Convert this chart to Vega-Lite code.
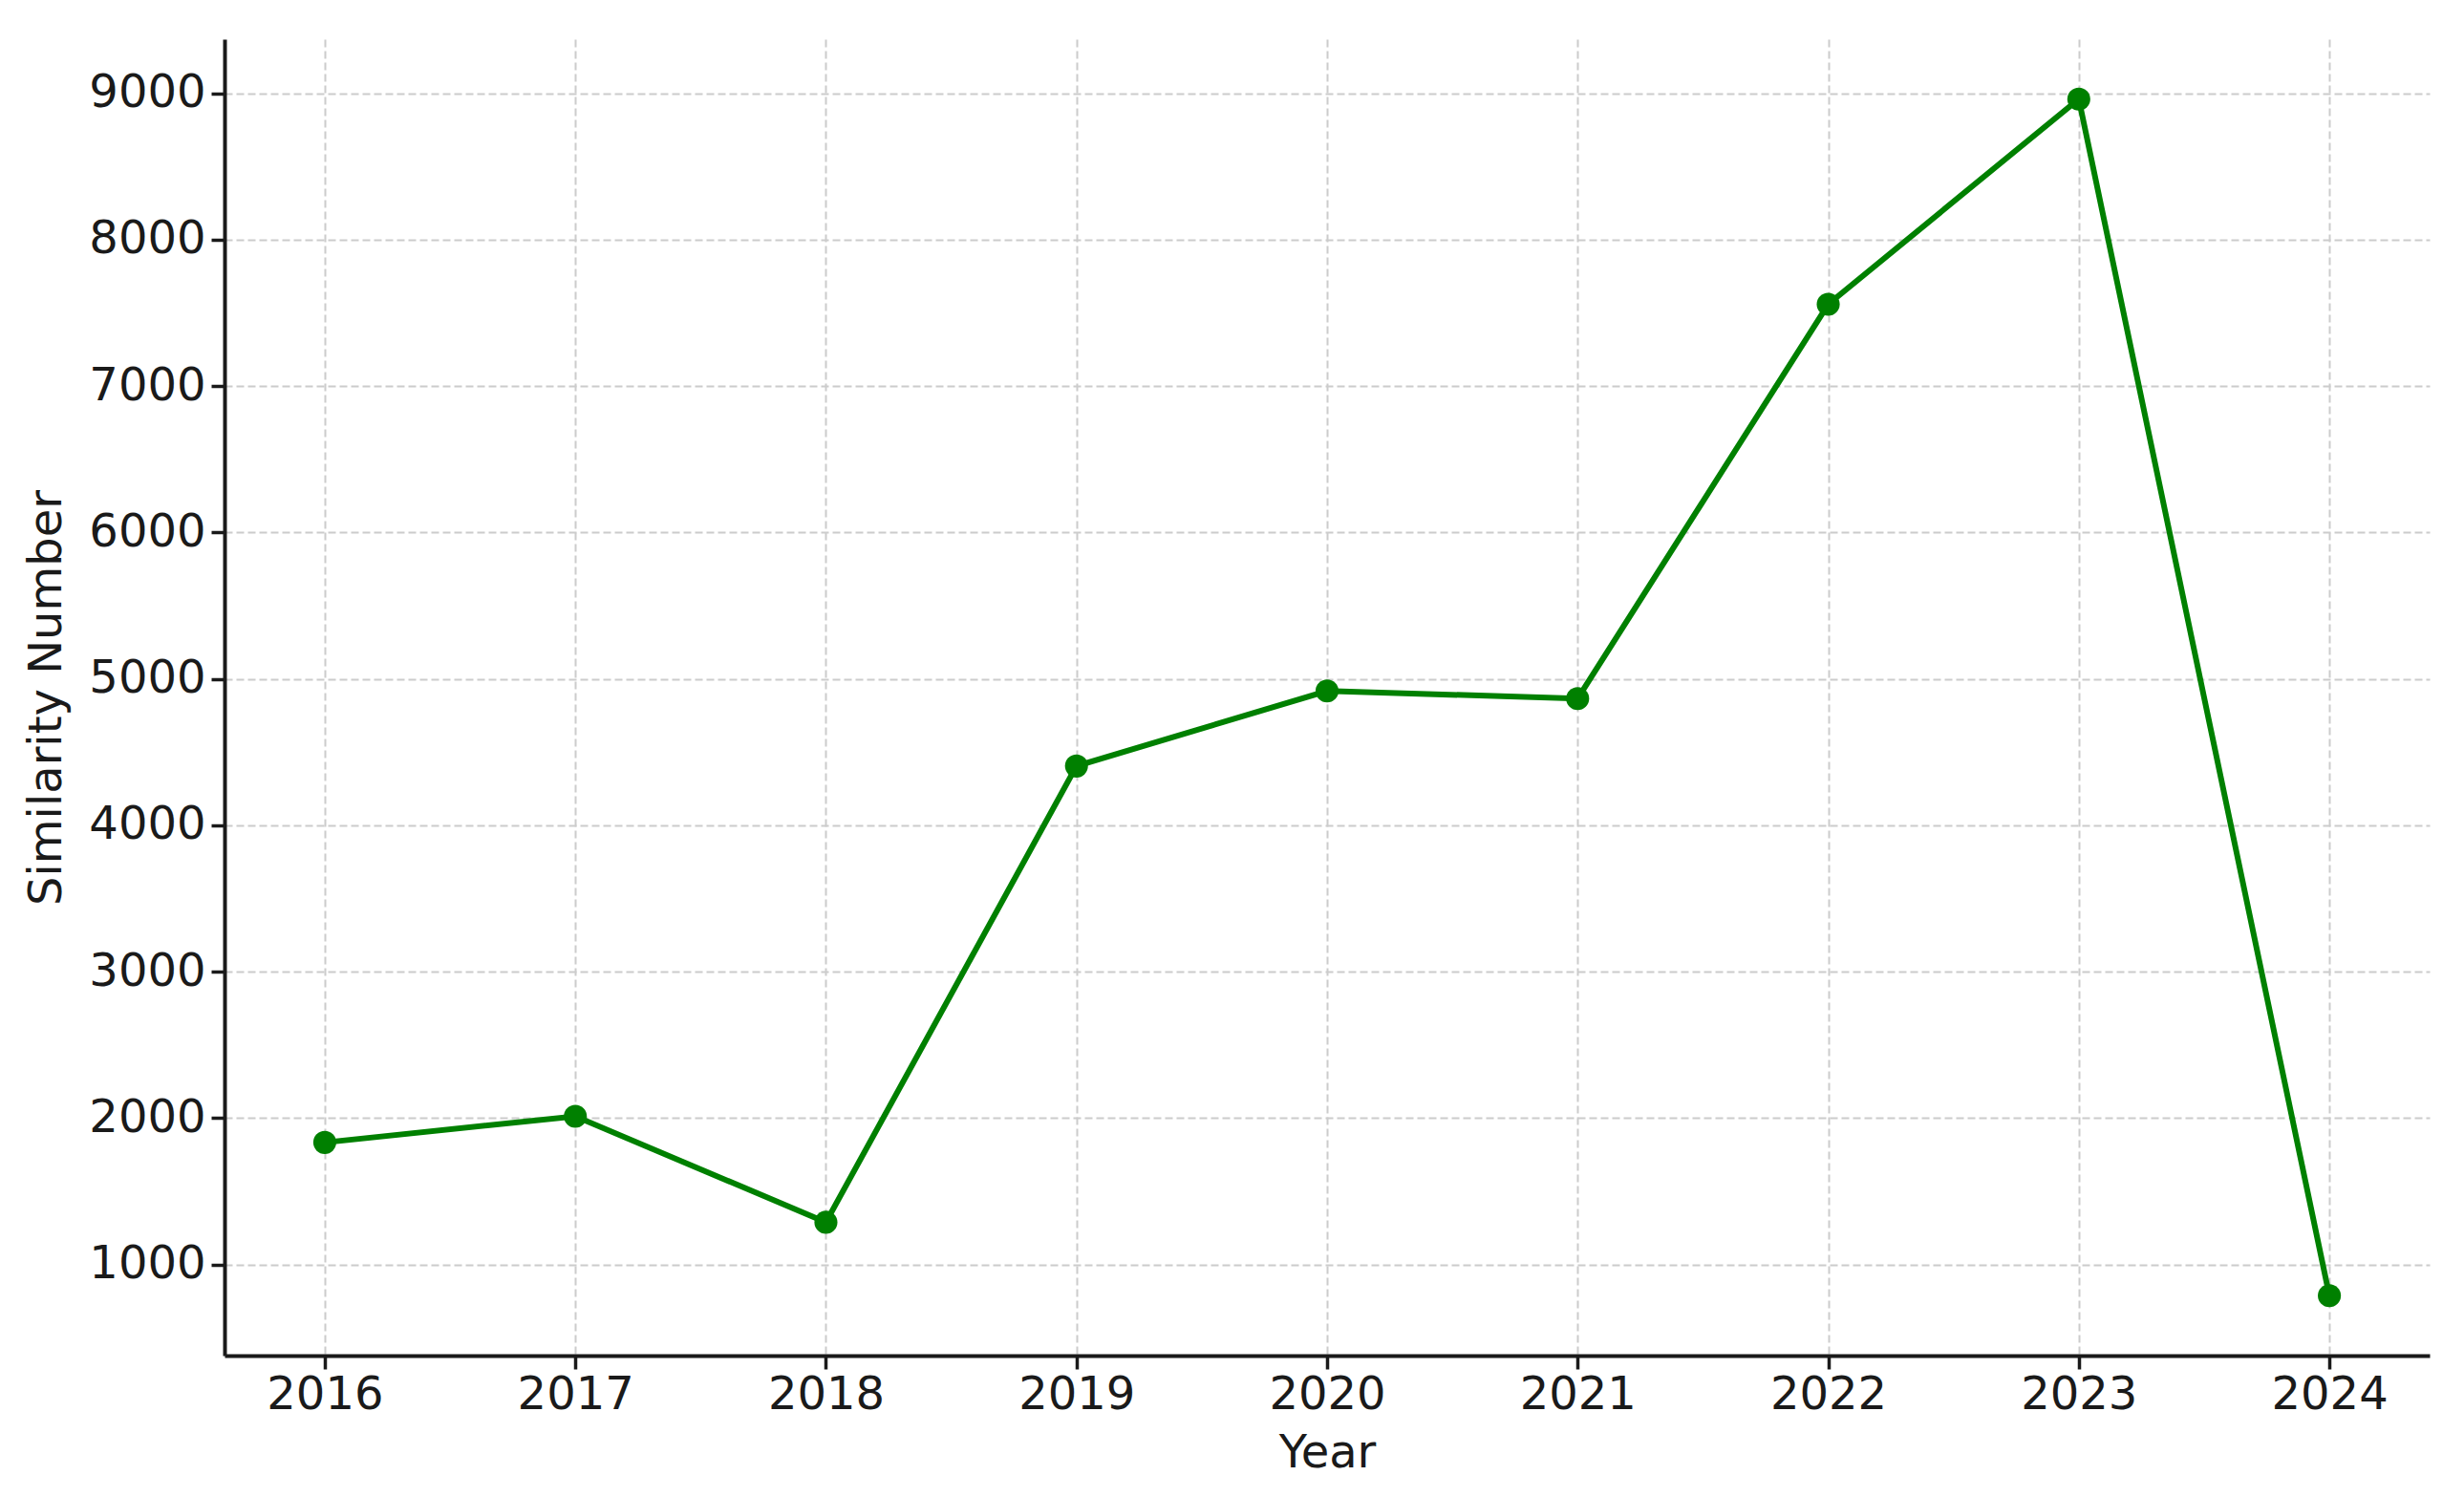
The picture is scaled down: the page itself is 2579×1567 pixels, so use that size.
{
  "$schema": "https://vega.github.io/schema/vega-lite/v6.json",
  "autosize": {"type": "none"},
  "width": 2308,
  "height": 1378,
  "padding": {"left": 235, "top": 41, "right": 36, "bottom": 148},
  "background": "white",
  "config": {
    "view": {"stroke": null},
    "font": "DejaVu Sans",
    "axis": {
      "labelFont": "DejaVu Sans",
      "titleFont": "DejaVu Sans",
      "labelFontSize": 48,
      "titleFontSize": 48,
      "titleFontWeight": "normal",
      "labelColor": "#1a1a1a",
      "titleColor": "#1a1a1a",
      "domainColor": "#1a1a1a",
      "domainWidth": 4,
      "tickColor": "#1a1a1a",
      "tickWidth": 3.5,
      "tickSize": 14,
      "gridColor": "#cccccc",
      "gridWidth": 2,
      "gridDash": [8, 4]
    }
  },
  "data": {
    "values": [
      {"Year": 2016, "Similarity Number": 1834},
      {"Year": 2017, "Similarity Number": 2013},
      {"Year": 2018, "Similarity Number": 1289},
      {"Year": 2019, "Similarity Number": 4405},
      {"Year": 2020, "Similarity Number": 4918},
      {"Year": 2021, "Similarity Number": 4866},
      {"Year": 2022, "Similarity Number": 7559},
      {"Year": 2023, "Similarity Number": 8961},
      {"Year": 2024, "Similarity Number": 787}
    ]
  },
  "encoding": {
    "x": {
      "field": "Year",
      "type": "quantitative",
      "scale": {"domain": [2015.6, 2024.4], "nice": false, "zero": false},
      "axis": {
        "values": [2016, 2017, 2018, 2019, 2020, 2021, 2022, 2023, 2024],
        "format": "d",
        "labelPadding": 3,
        "labelFlush": false,
        "labelOverlap": false,
        "title": "Year",
        "titleY": 102,
        "titleBaseline": "middle"
      }
    },
    "y": {
      "field": "Similarity Number",
      "type": "quantitative",
      "scale": {"domain": [378, 9370], "nice": false, "zero": false},
      "axis": {
        "values": [1000, 2000, 3000, 4000, 5000, 6000, 7000, 8000, 9000],
        "format": "d",
        "labelPadding": 6,
        "labelFlush": false,
        "labelOverlap": false,
        "title": "Similarity Number",
        "titleAngle": -90,
        "titleX": -186,
        "titleY": 689,
        "titleAlign": "center",
        "titleBaseline": "middle"
      }
    }
  },
  "layer": [
    {"mark": {"type": "line", "color": "#008000", "strokeWidth": 6}},
    {"mark": {"type": "point", "shape": "circle", "filled": true, "color": "#008000", "opacity": 1, "size": 580}}
  ]
}
